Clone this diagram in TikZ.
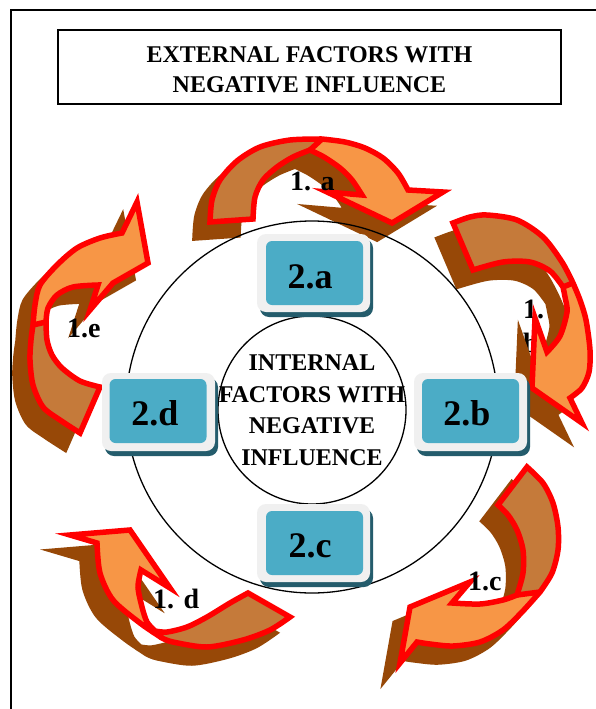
\documentclass[tikz,border=0pt]{standalone}
\usepackage{fontspec}
\setmainfont{Liberation Serif}
\definecolor{arrshadowc}{RGB}{151,72,7}
\definecolor{arrdarkc}{RGB}{197,122,58}
\definecolor{arrlightc}{RGB}{247,150,70}
\definecolor{arrredc}{RGB}{255,0,0}
\definecolor{boxtealc}{RGB}{75,172,198}
\definecolor{boxdarkc}{RGB}{36,92,108}
\definecolor{boxgrayc}{RGB}{240,240,240}
\tikzset{
  arrline/.style={draw=arrredc, line width=5.5pt, line join=miter},
  boxshade/.style={rounded corners=9pt, fill=boxdarkc, minimum width=113pt, minimum height=78pt, inner sep=0pt},
  boxframe/.style={rounded corners=9pt, fill=boxgrayc, minimum width=113pt, minimum height=78pt, inner sep=0pt},
  boxface/.style={rounded corners=6pt, fill=boxtealc, minimum width=97pt, minimum height=64pt, inner sep=0pt},
  boxlabel/.style={font=\fontsize{36}{40}\selectfont\bfseries, inner sep=0pt, anchor=base},
  arrlabel/.style={font=\fontsize{28}{30}\selectfont\bfseries, inner sep=0pt, anchor=base west},
  ring/.style={draw, circle, line width=1.3pt, inner sep=0pt},
}
% #1 outer edge tail->split, #2 outer edge split->head, #3 head corners,
% #4 inner edge head->split, #5 inner edge split->tail, #6 split line
\newcommand{\curvarrow}[6]{%
  \fill[arrshadowc, draw=arrshadowc, line width=5.5pt, line join=miter, shift={(-15,16)}]
    plot[smooth] coordinates {#1} -- plot[smooth] coordinates {#2} #3
    -- plot[smooth] coordinates {#4} -- plot[smooth] coordinates {#5} -- cycle;
  \fill[arrdarkc] plot[smooth] coordinates {#1} -- plot[smooth] coordinates {#5} -- cycle;
  \fill[arrlightc] plot[smooth] coordinates {#2} #3 -- plot[smooth] coordinates {#4} -- cycle;
  \draw[arrline] #6;
  \draw[arrline] plot[smooth] coordinates {#1} -- plot[smooth] coordinates {#2} #3
    -- plot[smooth] coordinates {#4} -- plot[smooth] coordinates {#5} -- cycle;
}
\begin{document}
\begin{tikzpicture}[x=1pt,y=-1pt]
\useasboundingbox (0,0) rectangle (596,709);
\fill[white] (0,0) rectangle (596,709);
% page frame
\draw[line width=1.4pt] (11,709) -- (11,10) -- (596,10);
% title
\node[draw, line width=1.4pt, minimum width=503pt, minimum height=74pt] (title) at (309.5,67) {};
\node[align=center, inner sep=0pt, font=\fontsize{24}{30}\selectfont\bfseries] (titletext) at (309.5,70)
      {EXTERNAL FACTORS WITH\\NEGATIVE INFLUENCE};

% arrow 1.a
\curvarrow{(210,222) (212,200) (220,180) (237,161) (260,147) (290,140) (322,139)}
          {(322,139) (345,142) (365,148) (383,158) (398,173) (408,190)}
          {-- (443,192) -- (392,223) -- (327,192)}
          {(362,195) (352,180) (340,168) (324,157) (310,150)}
          {(310,150) (293,157) (277,167) (263,180) (255,197) (253,219)}
          {(310,150) -- (322,139)}
% arrow 1.b (label lies under it)
\node[arrlabel] (lb1) at (523,318) {1.};
\node[arrlabel] (lb2) at (523,352) {b};
\curvarrow{(453,223) (470,217) (487,215) (517,220) (543,237) (562,262) (573,283)}
          {(573,283) (580,300) (586,320) (590,350) (589,372) (582,388) (570,398)}
          {-- (582,423) -- (532,388) -- (535,318)}
          {(547,352) (560,336) (567,312) (565,297) (563,287)}
          {(563,287) (550,271) (530,262) (503,262) (473,270)}
          {(563,287) -- (573,283)}
% arrow 1.c
\curvarrow{(527,467) (543,483) (553,503) (558,527) (558,550) (552,573) (540,592)}
          {(540,592) (522,612) (503,630) (480,642) (453,646) (430,644) (417,642)}
          {-- (400,663) -- (410,607) -- (470,582)}
          {(452,603) (480,604) (503,600) (517,595)}
          {(517,595) (523,573) (523,550) (517,530) (508,515) (498,505)}
          {(517,595) -- (540,592)}
% arrow 1.d
\curvarrow{(290,617) (270,630) (243,640) (207,647) (173,642) (162,638)}
          {(162,638) (140,623) (113,600) (100,573) (97,543)}
          {-- (70,535) -- (130,530) -- (170,588)}
          {(141,570) (138,587) (142,607) (147,622) (155,631)}
          {(155,631) (167,632) (187,627) (207,617) (230,603) (248,593)}
          {(155,631) -- (162,638)}
% arrow 1.e
\curvarrow{(80,433) (60,420) (43,407) (33,385) (30,360) (31,340) (33,325)}
          {(33,325) (35,305) (40,285) (57,265) (77,248) (100,238) (122,233)}
          {-- (137,202) -- (148,263) -- (113,283) -- (90,310)}
          {(98,285) (73,287) (57,295) (48,308) (46,322)}
          {(46,322) (47,340) (52,355) (62,368) (80,381) (100,387)}
          {(46,322) -- (33,325)}

% circles
\node[ring, minimum size=372pt] (outerring) at (312,407) {};
\node[ring, minimum size=188pt] (innerring) at (312,410) {};
\node[align=center, inner sep=0pt, font=\fontsize{24}{31.5}\selectfont\bfseries] (innertext) at (312,410)
     {INTERNAL\\FACTORS WITH\\NEGATIVE\\INFLUENCE};

% boxes
\node[boxshade] (sa) at (316.5,278) {};
\node[boxframe] (ba) at (313.5,273) {};
\node[boxface] (fa) at (314.5,273) {};
\node[boxlabel] (ta) at (310,288) {2.a};

\node[boxshade] (sc) at (316.5,548) {};
\node[boxframe] (bc) at (313.5,543) {};
\node[boxface] (fc) at (314.5,543) {};
\node[boxlabel] (tc) at (310,557) {2.c};

\node[boxshade] (sd) at (161.5,417) {};
\node[boxframe] (bd) at (158.5,412) {};
\node[boxface] (fd) at (158,411) {};
\node[boxlabel] (td) at (155,425) {2.d};

\node[boxshade] (sb) at (473.5,417) {};
\node[boxframe] (bb) at (470.5,412) {};
\node[boxface] (fb) at (470.5,411) {};
\node[boxlabel] (tb) at (467,425) {2.b};

% labels over arrows
\node[arrlabel] (la) at (290,190) {1. a};
\node[arrlabel] (lc) at (468,590) {1.c};
\node[arrlabel] (ld) at (153,608) {1. d};
\node[arrlabel] (le) at (67,337) {1.e};
\end{tikzpicture}
\end{document}
